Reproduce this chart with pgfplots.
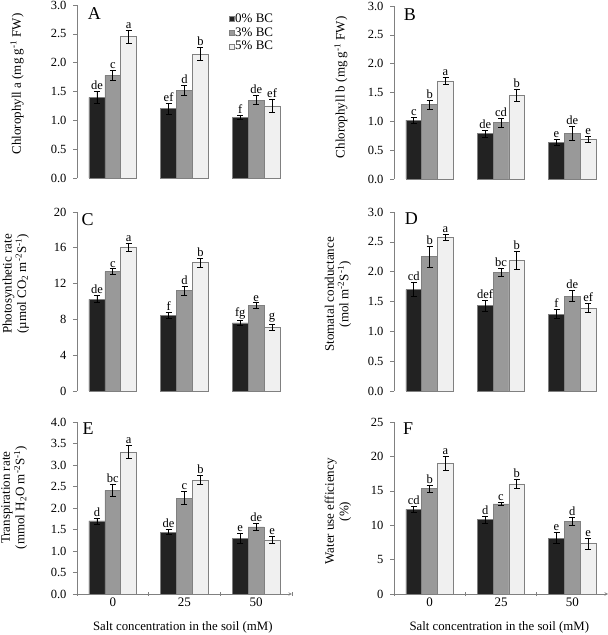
\documentclass[border=0pt]{standalone}
\usepackage{fontspec}
\setmainfont{Liberation Serif}
\usepackage{pgfplots}
\pgfplotsset{compat=1.18}
\definecolor{c0}{HTML}{222222}
\definecolor{c1}{HTML}{999999}
\definecolor{c2}{HTML}{F0F0F0}
\definecolor{edge}{HTML}{808080}
\tikzset{plab/.style={anchor=north west, inner sep=0pt, font=\fontsize{18}{18}\selectfont}}
\pgfplotsset{
  panel/.style={
    scale only axis, anchor=south west, clip=false,
    xmin=-0.5, xmax=2.5, ymin=0,
    axis y line=left,
    axis line style={-, draw=edge, line width=0.6pt},
    ytick style={draw=edge, line width=0.6pt},
    tick align=outside, major tick length=4pt,
    yticklabel style={font=\fontsize{12.5}{14}\selectfont, xshift=-3pt, /pgf/number format/assume math mode=true},
    ylabel style={font=\fontsize{13}{14.5}\selectfont, align=center, anchor=center},
  },
  toppanel/.style={axis x line=none},
  dec/.style={yticklabel style={/pgf/number format/.cd, fixed, fixed zerofill, precision=1}},
  bottompanel/.style={axis x line=bottom, xtick={-0.5,0.5,1.5,2.5}, xticklabels={},
    xtick style={draw=edge, line width=0.6pt},
    extra x ticks={0,1,2}, extra x tick labels={0,25,50},
    extra x tick style={major tick length=0pt, tick style={draw=none}},
    xticklabel style={font=\fontsize{13}{15}\selectfont},
    xlabel={Salt concentration in the soil (mM)},
    xlabel style={font=\fontsize{12.8}{15}\selectfont, at={(axis description cs:0.492,-0.195)}, anchor=center}},
  bars/.style={ybar, bar width=0.222, bar shift=0pt, draw=edge, line width=0.6pt,
    error bars/y dir=both, error bars/y explicit,
    error bars/error bar style={black, line width=0.7pt},
    error bars/error mark options={rotate=90, black, mark size=3pt, line width=0.7pt}},
  sqleg/.style={legend image code/.code={\draw[##1, line width=0.4pt] (0pt,-2.5pt) rectangle (5pt,2.5pt);}},
  b0/.style={bars, fill=c0, sqleg},
  b1/.style={bars, fill=c1, sqleg},
  b2/.style={bars, fill=c2, sqleg},
  lab/.style={draw=none, mark=none, forget plot, nodes near coords, point meta=explicit symbolic,
    nodes near coords style={anchor=south, inner sep=1.5pt, font=\fontsize{12.5}{14}\selectfont, text=black}},
}
\begin{document}
\begin{tikzpicture}
\useasboundingbox (0,0) rectangle (608pt,635pt);
% ---------------- A
\begin{axis}[panel, toppanel, dec, at={(77pt,457pt)}, width=215pt, height=173pt, ymax=3, ytick={0,0.5,...,3},
  ylabel={Chlorophyll a (mg g\textsuperscript{-1} FW)},
  ylabel style={at={(axis description cs:-0.279,0.543)}},
  legend entries={0\% BC, 3\% BC, 5\% BC}, legend cell align=left,
  legend style={draw=none, fill=none, at={(rel axis cs:0.705,0.955)}, anchor=north west,
    font=\fontsize{13}{15}\selectfont, inner sep=0pt, row sep=1.5pt, nodes={inner sep=1pt}}]
\addplot[b0] table[x=x,y=y,y error=e] {
x y e
-0.222 1.40 0.11
0.778 1.20 0.10
1.778 1.05 0.04
};
\addplot[b1] table[x=x,y=y,y error=e] {
x y e
0 1.78 0.09
1 1.52 0.08
2 1.35 0.08
};
\addplot[b2] table[x=x,y=y,y error=e] {
x y e
0.222 2.45 0.11
1.222 2.15 0.11
2.222 1.25 0.12
};
\addplot[lab] table[x=x, y expr=\thisrow{y}+\thisrow{e}, meta=l] {
x y e l
-0.222 1.40 0.11 de
0 1.78 0.09 c
0.222 2.45 0.11 a
0.778 1.20 0.10 ef
1 1.52 0.08 d
1.222 2.15 0.11 b
1.778 1.05 0.04 f
2 1.35 0.08 de
2.222 1.25 0.12 ef
};
\node[plab] at (rel axis cs:0.05,0.985) {A};
\end{axis}
% ---------------- B
\begin{axis}[panel, toppanel, dec, at={(394pt,456pt)}, width=214pt, height=173pt, ymax=3, ytick={0,0.5,...,3},
  ylabel={Chlorophyll b (mg g\textsuperscript{-1} FW)},
  ylabel style={at={(axis description cs:-0.248,0.53)}}]
\addplot[b0] table[x=x,y=y,y error=e] {
x y e
-0.222 1.02 0.05
0.778 0.79 0.06
1.778 0.63 0.05
};
\addplot[b1] table[x=x,y=y,y error=e] {
x y e
0 1.29 0.08
1 0.98 0.08
2 0.79 0.12
};
\addplot[b2] table[x=x,y=y,y error=e] {
x y e
0.222 1.70 0.06
1.222 1.45 0.10
2.222 0.69 0.05
};
\addplot[lab] table[x=x, y expr=\thisrow{y}+\thisrow{e}, meta=l] {
x y e l
-0.222 1.02 0.05 c
0 1.29 0.08 b
0.222 1.70 0.06 a
0.778 0.79 0.06 de
1 0.98 0.08 cd
1.222 1.45 0.10 b
1.778 0.63 0.05 e
2 0.79 0.12 de
2.222 0.69 0.05 e
};
\node[plab] at (rel axis cs:0.045,0.985) {B};
\end{axis}
% ---------------- C
\begin{axis}[panel, toppanel, at={(77pt,244pt)}, width=215pt, height=179pt, ymax=20, ytick={0,4,...,20},
  ylabel={Photosynthetic rate\\(µmol CO\textsubscript{2} m\textsuperscript{-2}S\textsuperscript{-1})},
  ylabel style={at={(axis description cs:-0.285,0.598)}}]
\addplot[b0] table[x=x,y=y,y error=e] {
x y e
-0.222 10.25 0.40
0.778 8.45 0.35
1.778 7.60 0.25
};
\addplot[b1] table[x=x,y=y,y error=e] {
x y e
0 13.35 0.30
1 11.20 0.50
2 9.55 0.30
};
\addplot[b2] table[x=x,y=y,y error=e] {
x y e
0.222 16.10 0.45
1.222 14.35 0.50
2.222 7.15 0.35
};
\addplot[lab] table[x=x, y expr=\thisrow{y}+\thisrow{e}, meta=l] {
x y e l
-0.222 10.25 0.40 de
0 13.35 0.30 c
0.222 16.10 0.45 a
0.778 8.45 0.35 f
1 11.20 0.50 d
1.222 14.35 0.50 b
1.778 7.60 0.25 fg
2 9.55 0.30 e
2.222 7.15 0.35 g
};
\node[plab] at (rel axis cs:0.02,0.995) {C};
\end{axis}
% ---------------- D
\begin{axis}[panel, toppanel, dec, at={(394pt,244pt)}, width=214pt, height=179pt, ymax=3, ytick={0,0.5,...,3},
  ylabel={Stomatal conductance\\(mol m\textsuperscript{-2}S\textsuperscript{-1})},
  ylabel style={at={(axis description cs:-0.262,0.54)}}]
\addplot[b0] table[x=x,y=y,y error=e] {
x y e
-0.222 1.70 0.12
0.778 1.43 0.09
1.778 1.29 0.08
};
\addplot[b1] table[x=x,y=y,y error=e] {
x y e
0 2.25 0.18
1 1.99 0.07
2 1.59 0.09
};
\addplot[b2] table[x=x,y=y,y error=e] {
x y e
0.222 2.57 0.05
1.222 2.19 0.15
2.222 1.39 0.08
};
\addplot[lab] table[x=x, y expr=\thisrow{y}+\thisrow{e}, meta=l] {
x y e l
-0.222 1.70 0.12 cd
0 2.25 0.18 b
0.222 2.57 0.05 a
0.778 1.43 0.09 def
1 1.99 0.07 bc
1.222 2.19 0.15 b
1.778 1.29 0.08 f
2 1.59 0.09 de
2.222 1.39 0.08 ef
};
\node[plab] at (rel axis cs:0.05,0.995) {D};
\end{axis}
% ---------------- E
\begin{axis}[panel, dec, bottompanel, at={(77pt,41pt)}, width=215pt, height=172pt, ymax=4, ytick={0,0.5,...,4},
  ylabel={Transpiration rate\\(mmol H\textsubscript{2}O m\textsuperscript{-2}S\textsuperscript{-1})},
  ylabel style={at={(axis description cs:-0.292,0.56)}}]
\addplot[b0] table[x=x,y=y,y error=e] {
x y e
-0.222 1.70 0.07
0.778 1.44 0.06
1.778 1.29 0.11
};
\addplot[b1] table[x=x,y=y,y error=e] {
x y e
0 2.41 0.15
1 2.23 0.15
2 1.56 0.08
};
\addplot[b2] table[x=x,y=y,y error=e] {
x y e
0.222 3.30 0.15
1.222 2.65 0.10
2.222 1.26 0.08
};
\addplot[lab] table[x=x, y expr=\thisrow{y}+\thisrow{e}, meta=l] {
x y e l
-0.222 1.70 0.07 d
0 2.41 0.15 bc
0.222 3.30 0.15 a
0.778 1.44 0.06 de
1 2.23 0.15 c
1.222 2.65 0.10 b
1.778 1.29 0.11 e
2 1.56 0.08 de
2.222 1.26 0.08 e
};
\node[plab] at (rel axis cs:0.025,0.995) {E};
\end{axis}
% ---------------- F
\begin{axis}[panel, bottompanel, at={(394pt,41pt)}, width=214pt, height=172pt, ymax=25, ytick={0,5,...,25},
  ylabel={Water use efficiency\\(\%)},
  ylabel style={at={(axis description cs:-0.262,0.48)}}]
\addplot[b0] table[x=x,y=y,y error=e] {
x y e
-0.222 12.3 0.45
0.778 10.8 0.55
1.778 8.1 0.80
};
\addplot[b1] table[x=x,y=y,y error=e] {
x y e
0 15.3 0.50
1 13.1 0.25
2 10.6 0.60
};
\addplot[b2] table[x=x,y=y,y error=e] {
x y e
0.222 19.0 1.00
1.222 16.0 0.70
2.222 7.3 0.80
};
\addplot[lab] table[x=x, y expr=\thisrow{y}+\thisrow{e}, meta=l] {
x y e l
-0.222 12.3 0.45 cd
0 15.3 0.50 b
0.222 19.0 1.00 a
0.778 10.8 0.55 d
1 13.1 0.25 c
1.222 16.0 0.70 b
1.778 8.1 0.80 e
2 10.6 0.60 d
2.222 7.3 0.80 e
};
\node[plab] at (rel axis cs:0.042,0.995) {F};
\end{axis}
\end{tikzpicture}
\end{document}
